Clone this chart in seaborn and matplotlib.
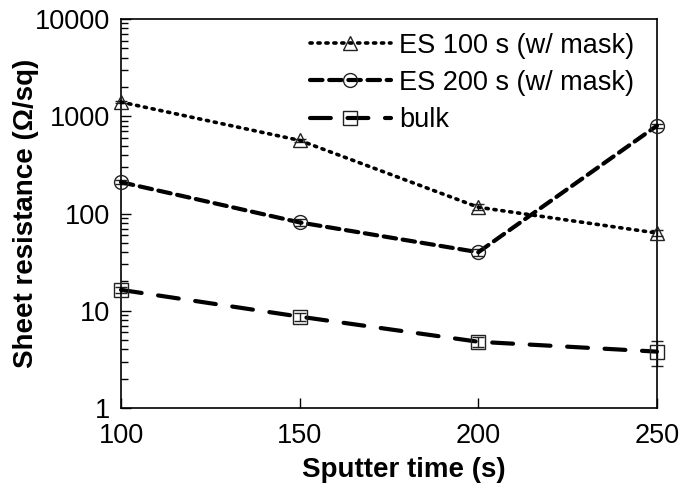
import numpy as np
import pandas as pd
import matplotlib
matplotlib.use("Agg")
import matplotlib.pyplot as plt
import seaborn as sns

# data
time_s = [100, 150, 200, 250]
es100 = [1400, 565, 116, 63]
es100_err = [40, 25, 8, 4]
es200 = [210, 81, 40, 800]
es200_err = [10, 6, 3, 40]
bulk = [16.4, 8.7, 4.8, 3.8]
bulk_err = [1.0, 0.8, 0.6, 1.1]
labels = ["ES 100 s (w/ mask)", "ES 200 s (w/ mask)", "bulk"]

sns.set_style("ticks")
plt.rcParams["font.family"] = ["Liberation Sans", "DejaVu Sans"]
plt.rcParams["text.color"] = "black"
plt.rcParams["axes.labelcolor"] = "black"
plt.rcParams["xtick.color"] = "black"
plt.rcParams["ytick.color"] = "black"

fig = plt.figure(figsize=(6.81, 4.93), dpi=100)
ax = fig.add_axes([0.1777, 0.1724, 0.787, 0.789])

series = [
    (es100, es100_err, "^", (0, (0.6, 1.6)), 2.6),
    (es200, es200_err, "o", (0, (3, 1.6)), 3.0),
    (bulk, bulk_err, "s", (0, (5, 4)), 3.0),
]

for (vals, err, mk, ls, lw), lab in zip(series, labels):
    df = pd.DataFrame({"t": time_s, "r": vals})
    sns.lineplot(data=df, x="t", y="r", ax=ax, color="black", lw=lw,
                 linestyle=ls, marker=mk, markersize=10,
                 markerfacecolor="none", markeredgecolor="#222222",
                 markeredgewidth=1.0, label=lab, dash_capstyle="round",
                 clip_on=False, zorder=3)
    ax.errorbar(time_s, vals, yerr=err, fmt="none", ecolor="#222222",
                elinewidth=1.0, capsize=4, capthick=1.0, clip_on=False)

ax.set_yscale("log")
ax.set_ylim(1, 10000)
ax.set_xlim(100, 250)
ax.set_xticks([100, 150, 200, 250])
ax.set_yticks([1, 10, 100, 1000, 10000])
ax.set_yticklabels(["1", "10", "100", "1000", "10000"])

ax.tick_params(axis="both", which="major", direction="in", length=7,
               width=1, labelsize=19.5, pad=8)
ax.tick_params(axis="y", which="minor", direction="in", length=5, width=1)
ax.tick_params(axis="x", which="major", pad=11)

for sp in ax.spines.values():
    sp.set_color("black")
    sp.set_linewidth(1.2)

ax.set_xlabel("Sputter time (s)", fontsize=20, fontweight="bold")
ax.set_ylabel("Sheet resistance (Ω/sq)", fontsize=20, fontweight="bold",
              labelpad=-3)
ax.xaxis.set_label_coords(0.528, -0.125)

leg = ax.legend(loc="upper right", frameon=False, fontsize=19.5,
                handlelength=3.0, handletextpad=0.3, labelspacing=0.42,
                borderaxespad=0.1, bbox_to_anchor=(0.983, 1.0))

fig.savefig("out.png", dpi=100)
